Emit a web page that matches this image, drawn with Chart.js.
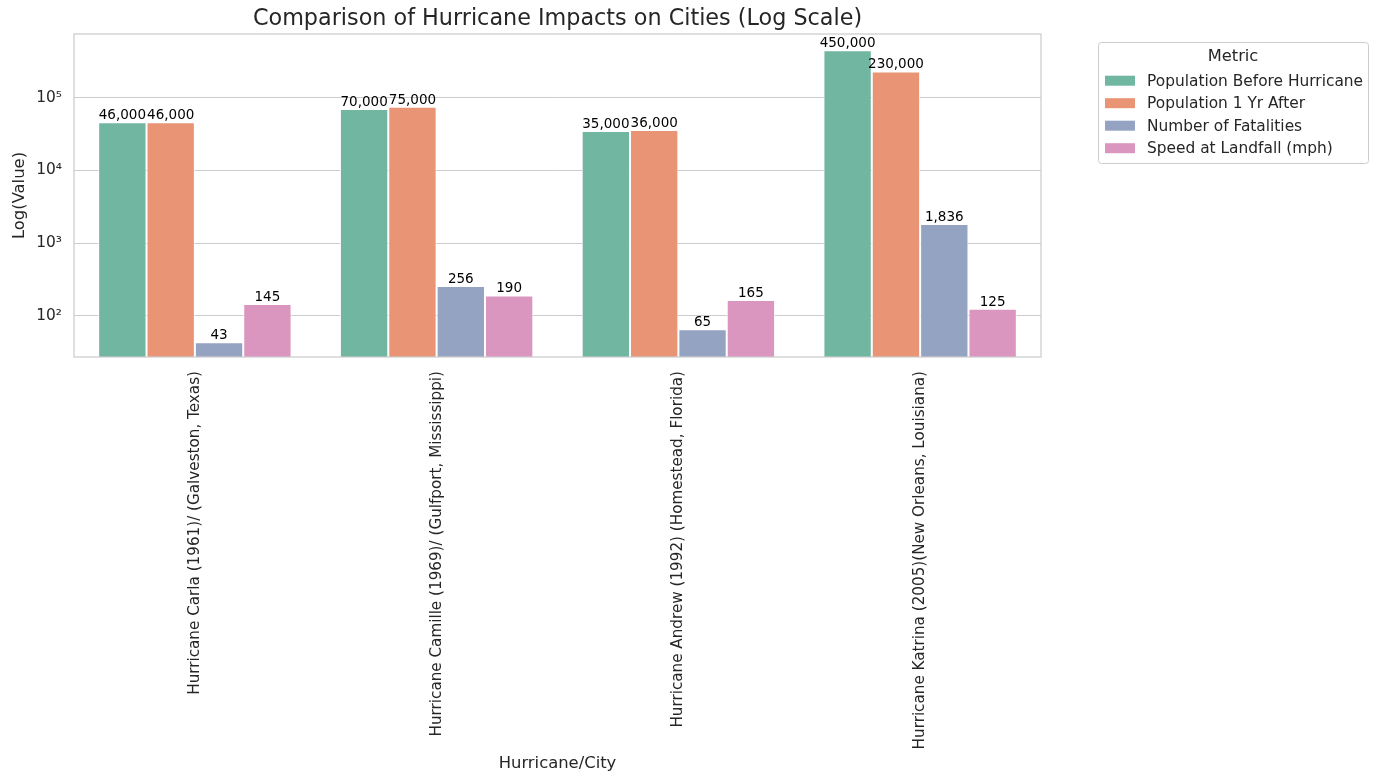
<!DOCTYPE html>
<html>
<head>
<meta charset="utf-8">
<script src="https://cdn.jsdelivr.net/npm/chart.js@4.4.1/dist/chart.umd.min.js"></script>
<style>
html,body{margin:0;padding:0;background:#fff;}
#wrap{width:1378px;height:784px;position:relative;}
</style>
</head>
<body>
<div id="wrap"><canvas id="c" width="1378" height="784"></canvas></div>
<script>
const categories = [
  "Hurricane Carla (1961)/ (Galveston, Texas)",
  "Hurricane Camille (1969)/ (Gulfport, Mississippi)",
  "Hurricane Andrew (1992) (Homestead, Florida)",
  "Hurricane Katrina (2005)(New Orleans, Louisiana)"
];
const seriesNames = ["Population Before Hurricane","Population 1 Yr After","Number of Fatalities","Speed at Landfall (mph)"];
const popBefore = [46000, 70000, 35000, 450000];
const popAfter = [46000, 75000, 36000, 230000];
const fatalities = [43, 256, 65, 1836];
const speed = [145, 190, 165, 125];
const yTickValues = [100, 1000, 10000, 100000];
const yTickLabels = ["10²", "10³", "10⁴", "10⁵"];
const colors = ["#71b6a1", "#e99575", "#95a3c3", "#db96c0"];

const FONT = "'DejaVu Sans', sans-serif";
const TXT = "#262626";
const seriesValues = [popBefore, popAfter, fatalities, speed];

const overlay = {
  id: 'overlay',
  afterDatasetsDraw(chart) {
    const ctx = chart.ctx;
    const a = chart.chartArea;
    ctx.save();
    ctx.fillStyle = '#000';
    ctx.font = "13.5px " + FONT;
    ctx.textAlign = 'center';
    ctx.textBaseline = 'alphabetic';
    chart.data.datasets.forEach((ds, i) => {
      const meta = chart.getDatasetMeta(i);
      meta.data.forEach((el, j) => {
        ctx.fillText(ds.data[j].toLocaleString('en-US'), el.x, el.y - 3);
      });
    });
    ctx.restore();
    ctx.save();
    ctx.strokeStyle = '#cccccc';
    ctx.lineWidth = 1.25;
    ctx.strokeRect(a.left, a.top, a.right - a.left, a.bottom - a.top);
    ctx.restore();
  },
  afterDraw(chart) {
    const ctx = chart.ctx;
    const a = chart.chartArea;
    const cx = (a.left + a.right) / 2;
    ctx.save();
    ctx.fillStyle = TXT;
    ctx.font = "22.3px " + FONT;
    ctx.textAlign = 'center';
    ctx.textBaseline = 'middle';
    ctx.fillText("Comparison of Hurricane Impacts on Cities (Log Scale)", cx, 19);
    ctx.font = "16.4px " + FONT;
    ctx.fillText("Hurricane/City", cx, 764);
    ctx.save();
    ctx.translate(20, (a.top + a.bottom) / 2);
    ctx.rotate(-Math.PI / 2);
    ctx.fillText("Log(Value)", 0, 0);
    ctx.restore();
    // legend
    const lx = 1098, ly = 42, lw = 270, lh = 121;
    ctx.fillStyle = 'rgba(255,255,255,0.8)';
    ctx.strokeStyle = '#cccccc';
    ctx.lineWidth = 1;
    ctx.beginPath();
    ctx.roundRect(lx + 0.5, ly + 0.5, lw, lh, 3);
    ctx.fill();
    ctx.stroke();
    ctx.fillStyle = TXT;
    ctx.font = "16.3px " + FONT;
    ctx.textAlign = 'center';
    ctx.fillText("Metric", lx + lw / 2, 57);
    ctx.font = "15.4px " + FONT;
    ctx.textAlign = 'left';
    const rows = [80.7, 103.2, 125.7, 148.2];
    chart.data.datasets.forEach((ds, i) => {
      ctx.fillStyle = ds.backgroundColor;
      ctx.fillRect(1105, rows[i] - 5, 30, 10);
      ctx.fillStyle = TXT;
      ctx.fillText(ds.label, 1147, rows[i] + 1);
    });
    ctx.restore();
  }
};

new Chart(document.getElementById('c'), {
  type: 'bar',
  data: {
    labels: categories,
    datasets: seriesNames.map((n, i) => ({
      label: n,
      data: seriesValues[i],
      backgroundColor: colors[i],
      borderColor: 'rgba(255,255,255,0.9)',
      borderWidth: 1,
      categoryPercentage: 0.8,
      barPercentage: 1.0
    }))
  },
  options: {
    responsive: false,
    animation: false,
    layout: { padding: { top: 34, right: 337, left: 0, bottom: 0 } },
    plugins: { legend: { display: false }, title: { display: false }, tooltip: { enabled: false } },
    scales: {
      x: {
        grid: { display: false },
        border: { display: false },
        ticks: {
          color: TXT, font: { family: FONT, size: 15.2 },
          minRotation: 90, maxRotation: 90, autoSkip: false, padding: 6
        },
        afterFit(s) { s.height = 427; }
      },
      y: {
        type: 'logarithmic',
        min: 27, max: 755000,
        grid: { color: '#cccccc', lineWidth: 1, drawTicks: false },
        border: { display: false },
        ticks: {
          color: TXT, font: { family: FONT, size: 15.4 }, padding: 12,
          callback(v) { const k = yTickValues.indexOf(v); return k >= 0 ? yTickLabels[k] : ''; }
        },
        afterBuildTicks(s) { s.ticks = yTickValues.map(v => ({ value: v })); },
        afterFit(s) { s.width = 74; }
      }
    }
  },
  plugins: [overlay]
});
</script>
</body>
</html>
